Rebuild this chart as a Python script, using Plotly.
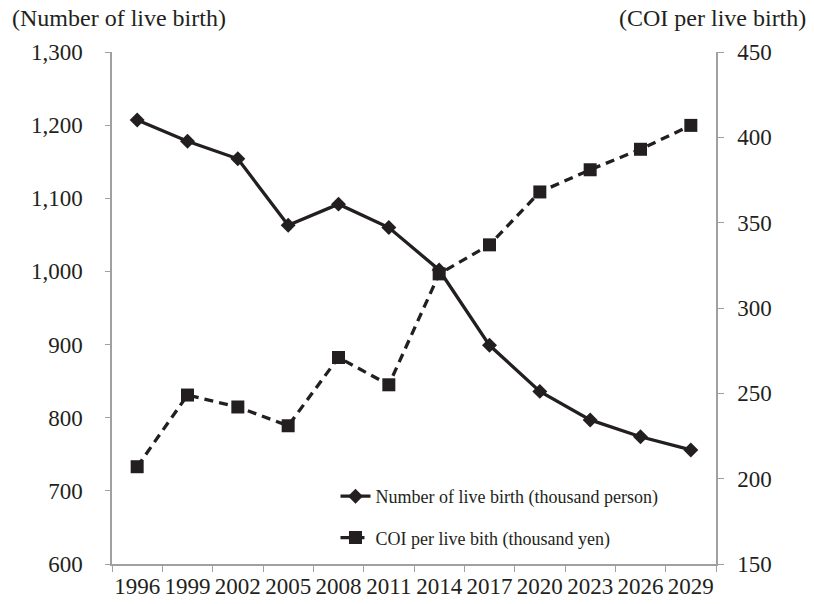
import plotly.graph_objects as go

years = ["1996", "1999", "2002", "2005", "2008", "2011", "2014", "2017", "2020", "2023", "2026", "2029"]
live_births = [1207, 1178, 1154, 1063, 1092, 1060, 1002, 899, 836, 797, 774, 756]
coi_per_birth = [207, 249, 242, 231, 271, 255, 320, 337, 368, 381, 393, 407]

left_ticks = [600, 700, 800, 900, 1000, 1100, 1200, 1300]
left_ticktext = ["600", "700", "800", "900", "1,000", "1,100", "1,200", "1,300"]
right_ticks = [150, 200, 250, 300, 350, 400, 450]

FONT = "Liberation Serif"
INK = "#231f20"
AX = "#a0a0a0"
FS = 23

fig = go.Figure()
fig.add_trace(go.Scatter(
    x=years, y=live_births, name="Number of live birth (thousand person)",
    mode="lines+markers", line=dict(color=INK, width=3.3),
    marker=dict(symbol="diamond", size=11.5, color=INK),
    legendgroup="a", yaxis="y"))
fig.add_trace(go.Scatter(
    x=years, y=coi_per_birth, name="COI per live bith (thousand yen)",
    mode="lines+markers", line=dict(color=INK, width=3.3, dash="9px,6px"),
    marker=dict(symbol="square", size=13, color=INK),
    legendgroup="b", yaxis="y2"))

# page body has an 8px default margin, so the figure is sized to compensate
fig.update_layout(
    width=806, height=596,
    margin=dict(l=104, r=98, t=44, b=40, autoexpand=False),
    paper_bgcolor="white", plot_bgcolor="white",
    font=dict(family=FONT, size=FS, color=INK),
    showlegend=True,
    legend=dict(x=0.37, y=0.168, xanchor="left", yanchor="top",
                font=dict(family=FONT, size=18, color=INK),
                bgcolor="rgba(0,0,0,0)", tracegroupgap=15, itemwidth=30),
    xaxis=dict(type="category", range=[-0.5, 11.5], showline=True,
               linecolor=AX, linewidth=1.5,
               ticks="outside", ticklen=6, tickcolor=AX, tickson="boundaries",
               showgrid=False, zeroline=False, ticklabelstandoff=1,
               tickangle=0, automargin=False,
               tickfont=dict(family=FONT, size=FS, color=INK)),
    yaxis=dict(range=[600, 1300], tickvals=left_ticks, ticktext=left_ticktext,
               showline=True, linecolor=AX, linewidth=1.5, ticks="outside",
               ticklen=5, tickcolor=AX, showgrid=False, zeroline=False,
               ticklabelstandoff=18, automargin=False,
               tickfont=dict(family=FONT, size=FS, color=INK)),
    yaxis2=dict(range=[150, 450], tickvals=right_ticks, overlaying="y",
                side="right", showline=True, linecolor=AX, linewidth=1.5,
                ticks="outside", ticklen=6, tickcolor=AX, showgrid=False,
                zeroline=False, ticklabelstandoff=9, automargin=False,
                tickfont=dict(family=FONT, size=FS, color=INK)),
    annotations=[
        dict(text="(Number of live birth)", xref="paper", yref="paper",
             x=-0.169, y=1.0, yshift=34, xanchor="left", yanchor="middle",
             showarrow=False, font=dict(family=FONT, size=24, color=INK)),
        dict(text="(COI per live birth)", xref="paper", yref="paper",
             x=1.152, y=1.0, yshift=34, xanchor="right", yanchor="middle",
             showarrow=False, font=dict(family=FONT, size=24, color=INK)),
    ],
)

fig.write_html("out.html")
